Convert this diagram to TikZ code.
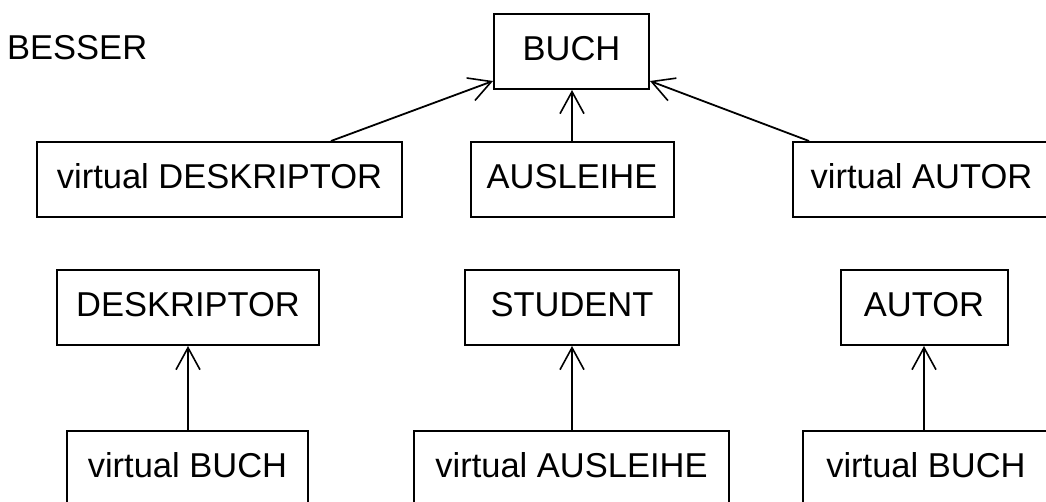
\documentclass[tikz,border=0pt]{standalone}
\usepackage{fontspec}
\setmainfont{Liberation Sans}
\usetikzlibrary{arrows.meta,calc}

\tikzset{
  entity/.style={draw, line width=2pt, rectangle, inner sep=0pt,
    minimum height=75pt, text height=24.7pt, text depth=7pt,
    font=\fontsize{34.5}{40}\selectfont},
  link/.style={line width=1.8pt,
    -{Straight Barb[length=22pt,width=24pt,line width=1.6pt]}},
}

\begin{document}
\begin{tikzpicture}[x=1pt,y=-1pt]
  \useasboundingbox (0,0) rectangle (1046,501);

  % heading
  \node[anchor=base west, inner sep=0pt, font=\fontsize{34.5}{40}\selectfont]
    (title) at (7,59) {BESSER};

  % upper group
  \node[entity, minimum width=155pt] (buch)  at (571.5,51.5)  {BUCH};
  \node[entity, minimum width=203pt] (ausl)  at (572,179.5)   {AUSLEIHE};
  \node[entity, minimum width=365pt] (vdesk) at (219.5,179.5) {virtual DESKRIPTOR};
  \node[entity, minimum width=257pt] (vautor) at (921.5,179.5) {virtual AUTOR};

  \draw[link] ($(vdesk.north west)+(295,0)$) -- ($(buch.south west)+(0,-9)$);
  \draw[link] (ausl.north) -- (ausl.north |- buch.south);
  \draw[link] ($(vautor.north west)+(17,0)$) -- ($(buch.south east)+(0,-9)$);

  % lower groups
  \node[entity, minimum width=262pt] (desk)    at (188,307.5) {DESKRIPTOR};
  \node[entity, minimum width=214pt] (student) at (572,307.5) {STUDENT};
  \node[entity, minimum width=167pt] (autor)   at (924,307.5) {AUTOR};

  \node[entity, minimum width=241pt] (vbuchA) at (187.5,468.5) {virtual BUCH};
  \node[entity, minimum width=315pt] (vausl)  at (571.5,468.5) {virtual AUSLEIHE};
  \node[entity, minimum width=246pt] (vbuchB) at (926,468.5)   {virtual BUCH};

  \draw[link] (desk.south |- vbuchA.north) -- (desk.south);
  \draw[link] (student.south |- vausl.north) -- (student.south);
  \draw[link] (autor.south |- vbuchB.north) -- (autor.south);
\end{tikzpicture}
\end{document}
